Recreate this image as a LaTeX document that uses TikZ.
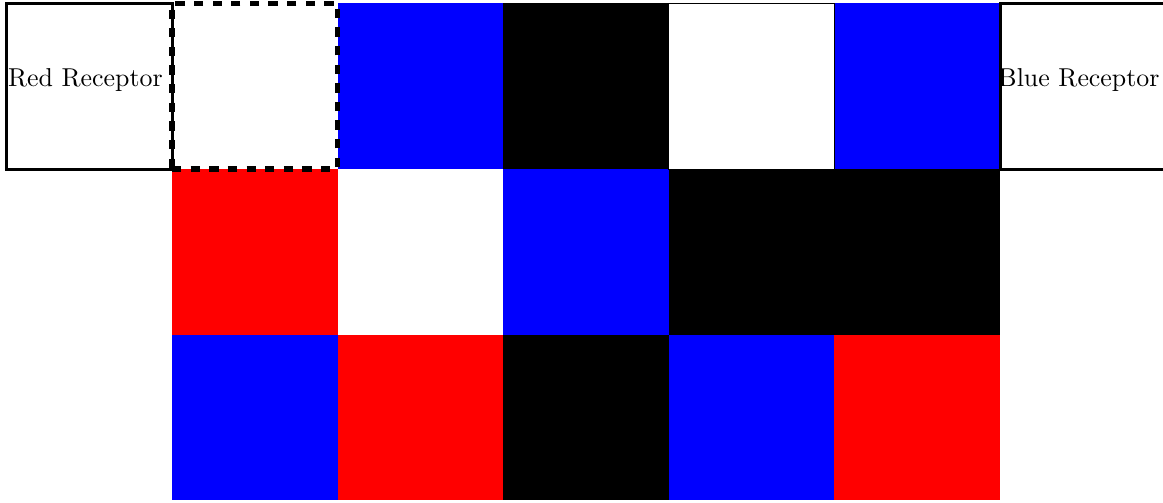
\documentclass[tikz,border=0pt]{standalone}
\usepackage{tikz}
\usetikzlibrary{positioning}
\tikzset{
  cell/.style={rectangle, minimum size=2.25cm, inner sep=0pt, outer sep=0pt, anchor=north west},
  receptor/.style={rectangle, draw=black, very thick, minimum size=2.25cm,
    inner sep=0pt, outer sep=0pt},
  rlabel/.style={font=\normalsize, inner sep=0pt, xshift=-1.5pt, yshift=2.3pt},
  cursor/.style={draw=black, line width=2pt, dash pattern=on 3.6pt off 3.6pt}
}
\begin{document}
\begin{tikzpicture}[x=2.25cm, y=2.25cm]
  \useasboundingbox (-1.039,-3.012) rectangle (5.984,0.021);
  % Grid of coloured cells, row by row
  \foreach \c [count=\i from 0] in {white,blue,black,white,blue}
    \node[cell, fill=\c] (ra\i) at (\i,0) {};
  \foreach \c [count=\i from 0] in {red,white,blue,black,black}
    \node[cell, fill=\c] (rb\i) at (\i,-1) {};
  \foreach \c [count=\i from 0] in {blue,red,black,blue,red}
    \node[cell, fill=\c] (rc\i) at (\i,-2) {};
  % Thin frame on the white top cell
  \node[cell, draw=black, thin] at (ra3.north west) {};

  % Receptors on both ends of the top row
  \node[receptor, left=0pt of ra0] (redrec) {};
  \node[rlabel] (redtxt) at (redrec) {Red Receptor};
  \node[receptor, right=0pt of ra4] (bluerec) {};
  \node[rlabel] (bluetxt) at (bluerec) {Blue Receptor};

  % Dashed marker on the first cell
  \node[cell, cursor] (marker) at (ra0.north west) {};
\end{tikzpicture}
\end{document}
